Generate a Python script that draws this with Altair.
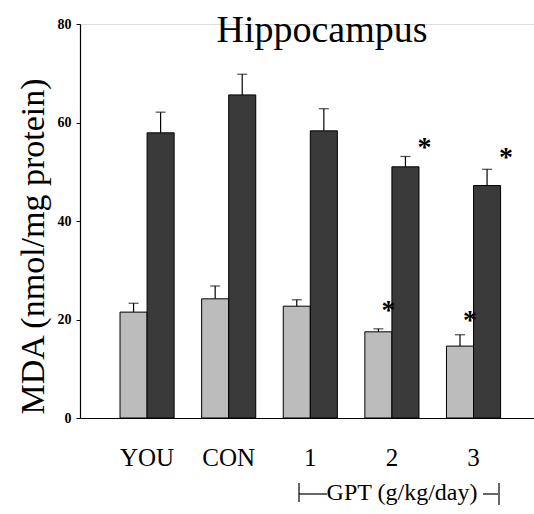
import altair as alt
import pandas as pd

groups = ["YOU", "CON", "1", "2", "3"]
light_vals = [21.5, 24.2, 22.7, 17.5, 14.6]
light_hi = [23.3, 26.8, 24.0, 18.1, 16.9]
dark_vals = [57.9, 65.6, 58.3, 51.0, 47.2]
dark_hi = [62.1, 69.8, 62.8, 53.1, 50.5]
light_star = [None, None, None, 23.0, 21.0]
dark_star = [None, None, None, 56.0, 54.0]

rows = []
for i, g in enumerate(groups):
    rows.append({"group": g, "series": "light", "value": light_vals[i], "hi": light_hi[i], "star": light_star[i]})
    rows.append({"group": g, "series": "dark", "value": dark_vals[i], "hi": dark_hi[i], "star": dark_star[i]})
df = pd.DataFrame(rows)

SERIF = "Liberation Serif, Times New Roman, Times, serif"

x_enc = alt.X(
    "group:N", sort=groups,
    scale=alt.Scale(paddingInner=0.337, paddingOuter=0.45, align=0.545),
    axis=alt.Axis(title=None, labelFont=SERIF, labelFontSize=25, labelAngle=0,
                  labelColor="black", ticks=False, tickSize=0, labelPadding=47,
                  labelBaseline="alphabetic", domainColor="black", domainWidth=1.2),
)
xo_enc = alt.XOffset("series:N", sort=["light", "dark"],
                     scale=alt.Scale(paddingInner=0, paddingOuter=0))
y_scale = alt.Scale(domain=[0, 80], nice=False)

base = alt.Chart(df)

bars = base.mark_bar(stroke="black", strokeWidth=1).encode(
    x=x_enc, xOffset=xo_enc,
    y=alt.Y("value:Q", scale=y_scale,
            axis=alt.Axis(values=[0, 20, 40, 60, 80], grid=False, tickSize=4,
                          tickColor="black", domainColor="black", domainWidth=1.2,
                          labelFont=SERIF, labelFontSize=14, labelFontWeight="bold",
                          labelColor="black", labelPadding=5,
                          title="MDA (nmol/mg protein)", titleFont=SERIF,
                          titleFontSize=34, titleFontWeight="normal", titleColor="black",
                          titleX=-37, titleY=222, titleAngle=-90,
                          titleBaseline="alphabetic", titleAlign="center")),
    color=alt.Color("series:N", scale=alt.Scale(domain=["light", "dark"],
                                                range=["#bcbcbc", "#3a3a3a"]),
                    legend=None),
)

err = base.mark_rule(color="black", strokeWidth=1.2).encode(
    x=alt.X("group:N", sort=groups), xOffset=xo_enc,
    y=alt.Y("value:Q", scale=y_scale), y2="hi:Q",
)
caps = base.mark_tick(color="black", size=10, thickness=1.2).encode(
    x=alt.X("group:N", sort=groups), xOffset=xo_enc,
    y=alt.Y("hi:Q", scale=y_scale),
)

stars_light = base.transform_filter("datum.series == 'light' && datum.star != null").mark_text(
    text="*", font=SERIF, fontSize=28, fontWeight="bold", baseline="middle", dx=10, dy=6, color="black"
).encode(x=alt.X("group:N", sort=groups), xOffset=xo_enc, y=alt.Y("star:Q", scale=y_scale))
stars_dark = base.transform_filter("datum.series == 'dark' && datum.star != null").mark_text(
    text="*", font=SERIF, fontSize=28, fontWeight="bold", baseline="middle", dx=19, dy=6, color="black"
).encode(x=alt.X("group:N", sort=groups), xOffset=xo_enc, y=alt.Y("star:Q", scale=y_scale))

one = pd.DataFrame({"a": [0]})
title = alt.Chart(one).mark_text(text="Hippocampus", font=SERIF, fontSize=38,
                                 baseline="alphabetic", align="center", color="black").encode(
    x=alt.value(242), y=alt.value(18))
gpt = alt.Chart(one).mark_text(text="GPT (g/kg/day)", font=SERIF, fontSize=24,
                               baseline="alphabetic", align="center", color="black").encode(
    x=alt.value(322), y=alt.value(476))

def rule(x1, x2, y1, y2):
    return alt.Chart(one).mark_rule(color="black", strokeWidth=1.2).encode(
        x=alt.value(x1), x2=alt.value(x2), y=alt.value(y1), y2=alt.value(y2))

brackets = [
    rule(219, 219, 459, 478),
    rule(219, 247, 470, 470),
    rule(403, 418, 470, 470),
    rule(419, 419, 459, 481),
]

chart = alt.layer(bars, err, caps, stars_light, stars_dark, title, gpt, *brackets).properties(
    width=454, height=394,
    autosize=alt.AutoSizeParams(type="none"),
    padding={"left": 80, "top": 24, "right": 0, "bottom": 96},
).configure_view(stroke=None).configure(background="white")

chart.save("out.html", embed_options={"renderer": "svg", "actions": False})
